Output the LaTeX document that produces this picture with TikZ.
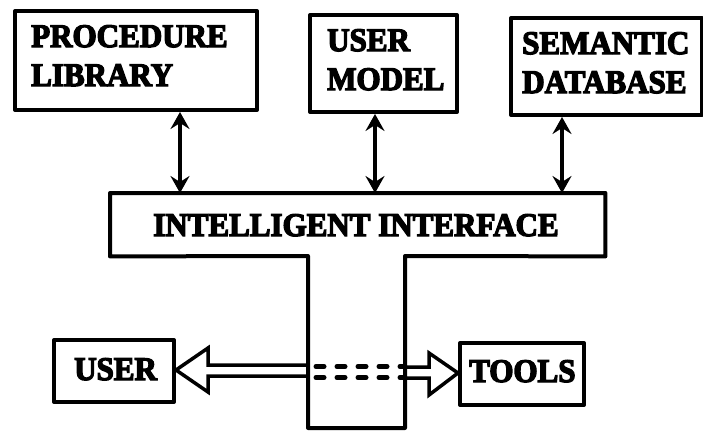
\documentclass[tikz,border=0pt]{standalone}
\usepackage{fontspec}
\setmainfont{Liberation Serif}[FakeStretch=0.94, BoldFeatures={FakeBold=4}]
\usetikzlibrary{arrows.meta}
\tikzset{
  boxline/.style={draw, line width=4pt, line join=round},
  frame/.style={boxline, rectangle, inner sep=0pt, anchor=north west},
  lbl/.style={font=\bfseries\fontsize{33}{39}\selectfont, inner sep=0pt, align=left},
  tip/.style={Stealth[length=17pt,width=19pt,inset=6pt]},
  dbl/.style={line width=3.5pt, {Stealth[length=17pt,width=19pt,inset=6pt]}-{Stealth[length=17pt,width=19pt,inset=6pt]}},
  hollow/.style={line width=3.5pt, line join=miter},
  dashrow/.style={line width=5pt, dash pattern=on 8pt off 13pt, line cap=round}
}
\begin{document}
\begin{tikzpicture}[x=1pt,y=-1pt]
\useasboundingbox (0,0) rectangle (703,436);
% top boxes
\node[frame, minimum width=242pt, minimum height=99pt] (pl) at (13,9) {};
\node[frame, minimum width=147pt, minimum height=97pt] (um) at (308,13) {};
\node[frame, minimum width=191pt, minimum height=97pt] (sd) at (509,16) {};
\node[lbl, anchor=north west] (plt) at (31,25) {PROCEDURE\\LIBRARY};
\node[lbl, anchor=north west] (umt) at (327,29) {USER\\MODEL};
\node[lbl, anchor=north west] (sdt) at (522,32) {SEMANTIC\\DATABASE};
% intelligent interface T shape
\node[inner sep=0pt, minimum width=495pt, minimum height=63pt, anchor=north west] (ii) at (110,193) {};
\node[lbl, anchor=base] (iit) at (356,236) {INTELLIGENT INTERFACE};
\coordinate (sl) at (308,256);
\coordinate (sr) at (405,256);
\coordinate (bl) at (308,428);
\coordinate (br) at (405,428);
\draw[boxline] (ii.north west) -- (ii.north east) -- (ii.south east) -- (sr) -- (br) -- (bl) -- (sl) -- (ii.south west) -- cycle;
% vertical double arrows
\coordinate (a1) at (180,193);
\coordinate (a2) at (375,193);
\coordinate (a3) at (562,193);
\draw[dbl] (pl.south -| a1) -- (a1);
\draw[dbl] (um.south -| a2) -- (a2);
\draw[dbl] (sd.south -| a3) -- (a3);
% bottom boxes
\node[frame, minimum width=120pt, minimum height=62pt] (user) at (52,338) {};
\node[frame, minimum width=124pt, minimum height=62pt] (tools) at (458,341) {};
\node[lbl, anchor=base west] (usert) at (74,380) {USER};
\node[lbl, anchor=base west] (toolst) at (469,382) {TOOLS};
% hollow arrows
\draw[hollow] (308,365) -- (208,365) -- (208,348) -- (user.east |- 0,370) -- (208,392) -- (208,376) -- (308,376);
\draw[hollow] (405,367) -- (429,367) -- (429,353) -- (tools.west |- 0,373) -- (429,395) -- (429,378) -- (405,378);
\draw[dashrow] (316,366.5) -- (405,366.5);
\draw[dashrow] (316,377.5) -- (405,377.5);
\end{tikzpicture}
\end{document}
